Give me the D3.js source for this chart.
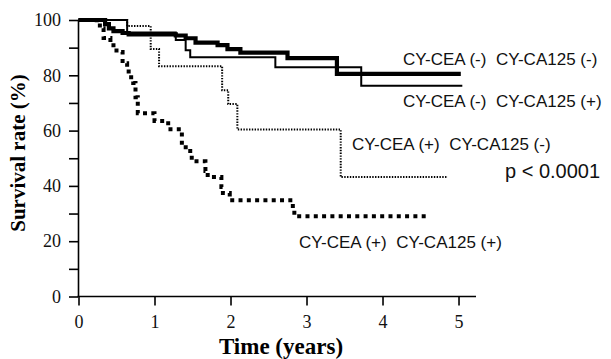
<!DOCTYPE html>
<html>
<head>
<meta charset="utf-8">
<script src="https://cdn.jsdelivr.net/npm/d3@7"></script>
<style>
  body { margin: 0; background: #fff; }
</style>
</head>
<body>
<div id="chart"></div>
<script>
// Kaplan-Meier steps (time in years, survival in %)
const negNegTimes = [0, 0.35, 0.40, 0.46, 0.58, 0.66, 1.28, 1.41, 1.54, 1.83, 1.96, 2.13, 2.75, 3.40, 5.03];
const negNegSurv  = [100, 98.5, 97, 96, 95.3, 94.8, 94.4, 93.4, 91.8, 90.9, 89.5, 88.2, 86.2, 80.5, 80.5];

const negPosTimes = [0, 0.64, 1.28, 1.41, 1.47, 2.59, 3.72, 5.05];
const negPosSurv  = [100, 95.5, 92.8, 89.1, 86.5, 82.9, 76.2, 76.2];

const posNegTimes = [0, 0.64, 0.95, 1.06, 1.89, 1.97, 2.09, 3.45, 4.86];
const posNegSurv  = [100, 97.8, 89.5, 83.3, 74.6, 69.6, 60.4, 43.2, 43.2];

const posPosTimes = [0, 0.24, 0.31, 0.33, 0.42, 0.46, 0.53, 0.58, 0.64, 0.66, 0.72, 0.75, 0.78, 1.0, 1.18, 1.36, 1.47, 1.49, 1.67, 1.70, 1.88, 1.90, 1.99, 2.82, 2.84, 4.62];
const posPosSurv  = [100, 98, 97, 93.5, 91.7, 89, 88.4, 84.4, 82.6, 79.3, 77.2, 72.1, 66.3, 63.5, 60.5, 54, 51.1, 48.9, 45.4, 43.2, 39.6, 37.4, 34.8, 31.5, 29, 29];

const groupLabels = ["CY-CEA (-)  CY-CA125 (-)", "CY-CEA (-)  CY-CA125 (+)", "CY-CEA (+)  CY-CA125 (-)", "CY-CEA (+)  CY-CA125 (+)"];
const xTicks = [0, 1, 2, 3, 4, 5];
const yTicks = [0, 10, 20, 30, 40, 50, 60, 70, 80, 90, 100];
const pText = "p < 0.0001";

const width = 611, height = 359;

const svg = d3.select("#chart")
  .append("svg")
    .attr("width", width)
    .attr("height", height)
    .style("background", "#fff");

const x = d3.scaleLinear()
  .domain([0, 5.23])
  .range([78.5, 476]);

const y = d3.scaleLinear()
  .domain([0, 100])
  .range([296.5, 20]);

// X axis
const gx = svg.append("g")
  .attr("transform", `translate(0, ${y(0)})`)
  .call(d3.axisBottom(x).tickValues(xTicks).tickFormat(d3.format("d"))
    .tickSize(9).tickSizeOuter(0).tickPadding(10));
gx.select(".domain").attr("d", `M${x(0) - 1},0H${x.range()[1]}`);

// Y axis, minor ticks without labels
const gy = svg.append("g")
  .attr("transform", `translate(${x(0) - 0.5}, 0)`)
  .call(d3.axisLeft(y).tickValues(yTicks).tickSize(9).tickSizeOuter(0).tickPadding(8)
    .tickFormat(d => d % 20 === 0 ? d : ""));

svg.selectAll(".domain, .tick line")
  .attr("stroke", "#000")
  .attr("stroke-width", 1.6);
svg.selectAll(".tick text")
  .style("font-family", "'Liberation Serif', 'Times New Roman', serif")
  .style("font-size", "18px")
  .attr("fill", "#111");

// axis titles
svg.append("text")
  .attr("transform", `translate(25, 153) rotate(-90)`)
  .attr("text-anchor", "middle")
  .style("font-family", "'Liberation Serif', 'Times New Roman', serif")
  .style("font-size", "21px")
  .style("font-weight", "bold")
  .text("Survival rate (%)");

svg.append("text")
  .attr("x", 281)
  .attr("y", 354)
  .attr("text-anchor", "middle")
  .style("font-family", "'Liberation Serif', 'Times New Roman', serif")
  .style("font-size", "23px")
  .style("font-weight", "bold")
  .text("Time (years)");

// curves
const line = d3.line()
  .x(d => x(d[0]))
  .y(d => y(d[1]))
  .curve(d3.curveStepAfter);

const curves = [
  {times: posNegTimes, surv: posNegSurv, w: 2, dash: "1.4 1.4"},
  {times: posPosTimes, surv: posPosSurv, w: 4, dash: "4 4.3"},
  {times: negNegTimes, surv: negNegSurv, w: 4.2, dash: null},
  {times: negPosTimes, surv: negPosSurv, w: 2, dash: null}
];

svg.selectAll("path.km")
  .data(curves)
  .join("path")
    .attr("class", "km")
    .attr("d", d => line(d3.zip(d.times, d.surv)))
    .attr("fill", "none")
    .attr("stroke", "#000")
    .attr("stroke-width", d => d.w)
    .attr("stroke-dasharray", d => d.dash);

// group labels
const labelPos = [[403, 65], [403, 106.5], [352, 150], [299, 248]];
svg.selectAll("text.grp")
  .data(groupLabels)
  .join("text")
    .attr("class", "grp")
    .attr("x", (d, i) => labelPos[i][0])
    .attr("y", (d, i) => labelPos[i][1])
    .style("font-family", "'Liberation Sans', Arial, sans-serif")
    .style("font-size", "17px")
    .style("white-space", "pre")
    .attr("fill", "#111")
    .text(d => d);

svg.append("text")
  .attr("x", 505)
  .attr("y", 178)
  .style("font-family", "'Liberation Sans', Arial, sans-serif")
  .style("font-size", "20px")
  .attr("fill", "#111")
  .text(pText);
</script>
</body>
</html>
